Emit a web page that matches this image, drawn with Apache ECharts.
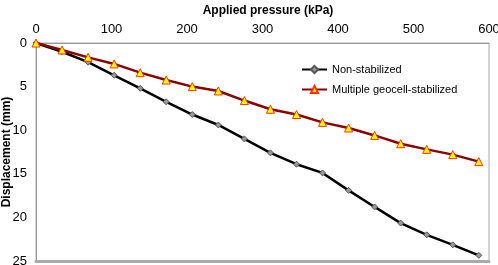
<!DOCTYPE html>
<html>
<head>
<meta charset="utf-8">
<script src="https://cdn.jsdelivr.net/npm/echarts@6/dist/echarts.min.js"></script>
<style>
  html, body { margin: 0; padding: 0; background: #fff; }
  #chart { width: 498px; height: 265px; }
</style>
</head>
<body>
<div id="chart"></div>
<script>
// applied pressure (kPa)
const pressure = [0, 34.5, 69, 103.5, 138, 172.5, 207, 241.5, 276, 310.5, 345, 379.5, 414, 448.5, 483, 517.5, 552, 586.5];
// displacement (mm)
const nonStabilized = [0, 1.0, 2.2, 3.7, 5.2, 6.75, 8.2, 9.4, 11.0, 12.6, 13.9, 14.9, 16.9, 18.8, 20.65, 22.0, 23.15, 24.35];
const geocellStabilized = [0, 0.8, 1.65, 2.4, 3.4, 4.25, 5.0, 5.5, 6.6, 7.6, 8.2, 9.1, 9.75, 10.6, 11.55, 12.2, 12.8, 13.6];

const chart = echarts.init(document.getElementById('chart'));

const pairs = (ys) => pressure.map((x, i) => [x, ys[i]]);
const font = 'Liberation Sans, Arial, sans-serif';

const option = {
  animation: false,
  title: {
    text: 'Applied pressure (kPa)',
    left: 263,
    textAlign: 'center',
    top: 0,
    textStyle: { fontFamily: font, fontSize: 12, fontWeight: 'bold', color: '#000' },
  },
  legend: {
    left: 301,
    top: 64,
    padding: 0,
    orient: 'vertical',
    itemGap: 9,
    itemWidth: 25,
    itemHeight: 9,
    textStyle: { fontFamily: font, fontSize: 11, color: '#000' },
    data: ['Non-stabilized', 'Multiple geocell-stabilized'],
  },
  grid: {
    left: 36,
    right: 9,
    top: 43,
    bottom: 4,
    outerBoundsMode: 'none',
    containLabel: false,
    show: true,
    borderColor: '#aaa',
    borderWidth: 1,
  },
  xAxis: [
    {
      type: 'value',
      position: 'top',
      min: 0,
      max: 600,
      interval: 100,
      axisLine: { show: true, lineStyle: { color: '#999', width: 1 } },
      axisTick: { show: false },
      axisLabel: { fontFamily: font, fontSize: 13, color: '#000', margin: 7 },
      splitLine: { show: false },
    },
    {
      type: 'value',
      position: 'bottom',
      min: 0,
      max: 600,
      axisLine: { show: true, onZero: false, lineStyle: { color: '#aaa', width: 3 } },
      axisTick: { show: false },
      axisLabel: { show: false },
      splitLine: { show: false },
    },
  ],
  yAxis: {
    type: 'value',
    inverse: true,
    min: 0,
    max: 25,
    interval: 5,
    name: 'Displacement (mm)',
    nameLocation: 'middle',
    nameGap: 23,
    nameRotate: 90,
    nameMoveOverlap: false,
    nameTextStyle: { fontFamily: font, fontSize: 12, fontWeight: 'bold', color: '#000' },
    axisLine: { show: true, lineStyle: { color: '#999', width: 1 } },
    axisTick: { show: false },
    axisLabel: { fontFamily: font, fontSize: 13, color: '#000', margin: 9 },
    splitLine: { show: false },
  },
  series: [
    {
      name: 'Non-stabilized',
      type: 'line',
      data: pairs(nonStabilized),
      symbol: 'diamond',
      symbolSize: 6,
      lineStyle: { color: '#000', width: 2.5 },
      itemStyle: { color: '#999', borderColor: '#555', borderWidth: 1 },
      z: 3,
    },
    {
      name: 'Multiple geocell-stabilized',
      type: 'line',
      data: pairs(geocellStabilized),
      symbol: 'triangle',
      symbolSize: 8,
      lineStyle: { color: '#8b0000', width: 2.5 },
      itemStyle: { color: '#ffff00', borderColor: '#ff3300', borderWidth: 1 },
      z: 4,
    },
  ],
};

chart.setOption(option);
</script>
</body>
</html>
